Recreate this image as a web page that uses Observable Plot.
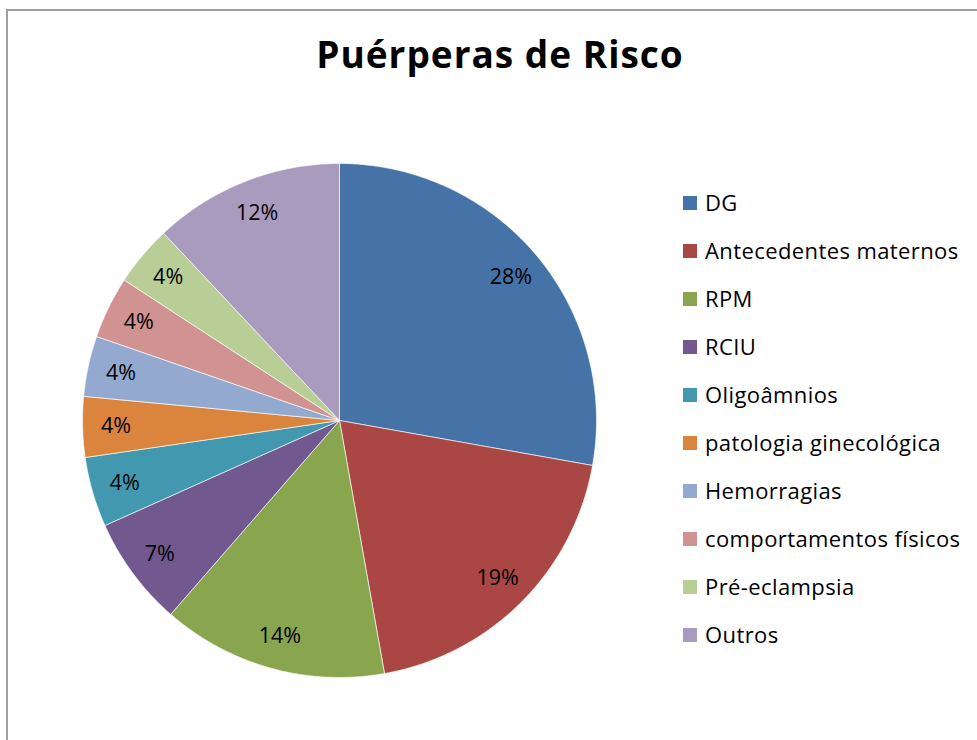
<!DOCTYPE html>
<html>
<head>
<meta charset="utf-8">
<script src="https://cdn.jsdelivr.net/npm/d3@7"></script>
<script src="https://cdn.jsdelivr.net/npm/@observablehq/plot@0.6"></script>
<style>
  html, body { margin: 0; padding: 0; background: #fff; }
  #wrap { position: relative; width: 977px; height: 740px; overflow: hidden; font-family: "Open Sans", sans-serif; }
  #frame { position: absolute; left: 6px; top: 9px; right: -10px; bottom: -10px; border-left: 2px solid #a0a0a0; border-top: 2px solid #a0a0a0; }
  #title { position: absolute; left: 0; width: 1000px; top: 28px; text-align: center; font-weight: 700; font-size: 37px; letter-spacing: 1px; color: #000; }
  #chart { position: absolute; left: 0; top: 140px; }
  #legend { position: absolute; left: 683px; top: 187px; }
  .item { height: 48px; display: flex; align-items: flex-start; font-size: 22px; letter-spacing: 0.4px; color: #000; }
  .sw { width: 14px; height: 14px; margin-top: 9px; margin-right: 8px; flex: none; }
  .lab { line-height: 30px; }
</style>
</head>
<body>
<div id="wrap">
  <div id="frame"></div>
  <div id="title">Puérperas de Risco</div>
  <div id="chart"></div>
  <div id="legend"></div>
</div>
<script>
const categories = ["DG", "Antecedentes maternos", "RPM", "RCIU", "Oligoâmnios", "patologia ginecológica", "Hemorragias", "comportamentos físicos", "Pré-eclampsia", "Outros"];
const values = [27.8, 19.4, 14.2, 6.9, 4.4, 3.8, 3.8, 3.9, 3.8, 12.0];
const colors = ["#4572A7", "#AA4643", "#89A54E", "#71588F", "#4198AF", "#DB843D", "#93A9CF", "#D19392", "#B9CD96", "#A99BBD"];

const total = d3.sum(values);
const arcs = d3.pie().sort(null).value(d => d)(values);

// polygon points for each slice (angle clockwise from top)
const slicePts = [];
arcs.forEach((a, i) => {
  const cat = categories[i];
  slicePts.push({cat, x: 0, y: 0});
  const n = Math.max(2, Math.ceil((a.endAngle - a.startAngle) / (Math.PI / 360)));
  for (let k = 0; k <= n; k++) {
    const t = a.startAngle + (a.endAngle - a.startAngle) * k / n;
    slicePts.push({cat, x: Math.sin(t), y: Math.cos(t)});
  }
  slicePts.push({cat, x: 0, y: 0});
});

const labelR = 0.87;
const labels = arcs.map((a, i) => {
  const m = (a.startAngle + a.endAngle) / 2;
  return {cat: categories[i], x: labelR * Math.sin(m), y: labelR * Math.cos(m), text: Math.round(values[i] / total * 100) + "%"};
});

const plot = Plot.plot({
  width: 620,
  height: 560,
  marginLeft: 82,
  marginRight: 24,
  marginTop: 23,
  marginBottom: 23,
  x: {domain: [-1, 1], axis: null},
  y: {domain: [-1, 1], axis: null},
  color: {domain: categories, range: colors},
  style: {fontFamily: "Open Sans, sans-serif", background: "transparent"},
  marks: [
    Plot.line(slicePts, {x: "x", y: "y", z: "cat", fill: "cat", stroke: "white", strokeWidth: 0.8, strokeOpacity: 0.8, curve: "linear"}),
    Plot.text(labels, {x: "x", y: "y", text: "text", fontSize: 21.5, fill: "#000"})
  ]
});
document.getElementById("chart").appendChild(plot);

const legend = document.getElementById("legend");
categories.forEach((c, i) => {
  const it = document.createElement("div");
  it.className = "item";
  const sw = document.createElement("div");
  sw.className = "sw";
  sw.style.background = colors[i];
  const lab = document.createElement("div");
  lab.className = "lab";
  lab.textContent = c;
  it.appendChild(sw);
  it.appendChild(lab);
  legend.appendChild(it);
});
</script>
</body>
</html>
